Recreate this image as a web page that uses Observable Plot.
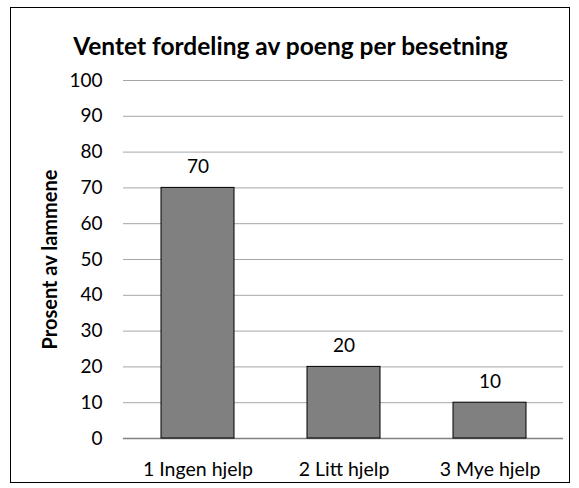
<!DOCTYPE html>
<html>
<head>
<meta charset="utf-8">
<script src="https://cdn.jsdelivr.net/npm/d3@7"></script>
<script src="https://cdn.jsdelivr.net/npm/@observablehq/plot@0.6"></script>
<style>
  html, body { margin: 0; padding: 0; background: #fff; }
  #wrap { position: relative; width: 579px; height: 488px; overflow: hidden; font-family: Lato, "Open Sans", sans-serif; }
  #frame { position: absolute; left: 10px; top: 7px; width: 560px; height: 476px; border: 1.5px solid #000; box-sizing: border-box; }
  #title { position: absolute; left: 0; width: 579px; top: 31px; line-height: 30px; text-align: center; font-weight: bold; font-size: 24.5px; color: #000; padding-left: 2px; box-sizing: border-box; }
  #chart { position: absolute; left: 0; top: 0; }
</style>
</head>
<body>
<div id="wrap">
  <div id="frame"></div>
  <div id="title">Ventet fordeling av poeng per besetning</div>
  <div id="chart"></div>
</div>
<script>
const categories = ["1 Ingen hjelp", "2 Litt hjelp", "3 Mye hjelp"];
const values = [70, 20, 10];
const yTicks = [0, 10, 20, 30, 40, 50, 60, 70, 80, 90, 100];
const yLabel = "Prosent av lammene";

const data = categories.map((c, i) => ({category: c, value: values[i]}));

const plot = Plot.plot({
  width: 579,
  height: 488,
  marginLeft: 123,
  marginRight: 16,
  marginTop: 80,
  marginBottom: 50,
  style: {fontFamily: "Lato, 'Open Sans', sans-serif", fontSize: "19px", background: "transparent", color: "#000"},
  x: {domain: categories, paddingInner: 0.5, paddingOuter: 0.25, label: null},
  y: {domain: [0, 100], label: null},
  marks: [
    Plot.gridY(yTicks, {stroke: "#a6a6a6", strokeOpacity: 1, strokeWidth: 1}),
    Plot.ruleY([0], {stroke: "#808080", strokeWidth: 1.5}),
    Plot.barY(data, {x: "category", y: "value", fill: "#808080", stroke: "#000", strokeWidth: 1}),
    Plot.text(data, {x: "category", y: "value", text: d => String(d.value), dy: -21, fontSize: 19, fill: "#000"}),
    Plot.axisY(yTicks, {tickSize: 0, tickPadding: 21, fontSize: 19, label: null}),
    Plot.axisX({tickSize: 0, tickPadding: 24, fontSize: 19.5, label: null}),
    Plot.text([yLabel], {frameAnchor: "left", textAnchor: "middle", lineAnchor: "middle", dx: -73, rotate: -90, fontWeight: "bold", fontSize: 20, fill: "#000"})
  ]
});
document.getElementById("chart").appendChild(plot);
</script>
</body>
</html>
